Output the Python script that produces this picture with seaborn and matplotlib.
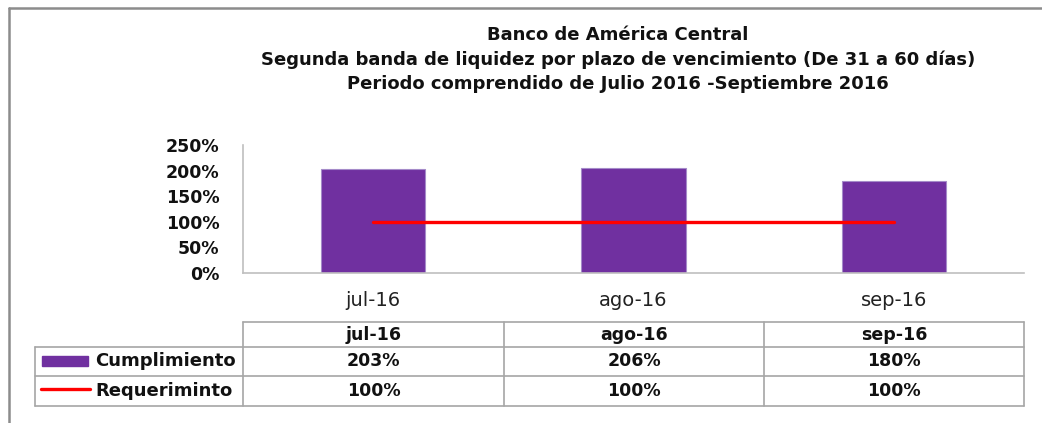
import numpy as np
import matplotlib
matplotlib.use("Agg")
import matplotlib.pyplot as plt
import seaborn as sns
from matplotlib.ticker import FuncFormatter
from matplotlib.patches import Rectangle
from matplotlib.lines import Line2D

# ---- data ----
months = ["jul-16", "ago-16", "sep-16"]
cumplimiento = [203, 206, 180]
requerimiento = [100, 100, 100]
series_names = ["Cumplimiento", "Requeriminto"]
title_lines = [
    "Banco de América Central",
    "Segunda banda de liquidez por plazo de vencimiento (De 31 a 60 días)",
    "Periodo comprendido de Julio 2016 -Septiembre 2016",
]
yticks = [0, 50, 100, 150, 200, 250]

PURPLE = "#7030A0"
RED = "#FF0000"
GRID = "#A6A6A6"

sns.set_theme(style="white")
plt.rcParams["font.family"] = ["DejaVu Sans"]

W, H = 1042, 423
fig = plt.figure(figsize=(W / 100, H / 100), dpi=100)

# main axes
L, R, T, B = 243, 1024, 145, 273
ax = fig.add_axes([L / W, 1 - B / H, (R - L) / W, (B - T) / H])
sns.barplot(x=months, y=cumplimiento, color=PURPLE, saturation=1, width=0.4,
            edgecolor="#A58BC9", linewidth=0.8, ax=ax)
sns.lineplot(x=np.arange(len(months)), y=requerimiento, color=RED, lw=2.4, ax=ax)
ax.set_xlim(-0.5, len(months) - 0.5)
ax.set_ylim(0, 250)
ax.set_yticks(yticks)
ax.yaxis.set_major_formatter(FuncFormatter(lambda v, p: f"{v:.0f}%"))
ax.set_xticks(range(len(months)))
ax.set_xticklabels(months)
ax.set_xlabel("")
ax.set_ylabel("")
ax.tick_params(axis="y", length=0, pad=17, labelsize=12.5)
ax.tick_params(axis="x", length=0, pad=13, labelsize=14, labelcolor="#222222")
for lab in ax.get_yticklabels():
    lab.set_fontweight("bold")
    lab.set_color("#111111")
for s in ["top", "right"]:
    ax.spines[s].set_visible(False)
for s in ["left", "bottom"]:
    ax.spines[s].set_color("#BFBFBF")
    ax.spines[s].set_linewidth(1.2)
ax.set_facecolor("none")

# overlay axes in pixel coordinates for frame, title and data table
ov = fig.add_axes([0, 0, 1, 1], zorder=-1)
ov.set_xlim(0, W)
ov.set_ylim(H, 0)
ov.axis("off")

# outer frame
ov.add_line(Line2D([9, 9], [8, H], color="#8C8C8C", lw=1.8))
ov.add_line(Line2D([9, W], [8, 8], color="#8C8C8C", lw=1.8))

# title
for y, t in zip([35, 60, 84], title_lines):
    ov.text(618, y, t, ha="center", va="center", fontsize=13,
            fontweight="bold", color="#111111")

# data table
cols = [243, 504, 764, 1024]
rows = [322, 347, 376, 406]
tl = 35
kw = dict(color=GRID, lw=1.2)
ov.add_line(Line2D([cols[0], cols[-1]], [rows[0], rows[0]], **kw))
for y in rows[1:]:
    ov.add_line(Line2D([tl, cols[-1]], [y, y], **kw))
for x in cols:
    ov.add_line(Line2D([x, x], [rows[0], rows[-1]], **kw))
ov.add_line(Line2D([tl, tl], [rows[1], rows[-1]], **kw))

cell_kw = dict(ha="center", va="center", fontsize=12.5, fontweight="bold",
               color="#111111")
for i, m in enumerate(months):
    cx = (cols[i] + cols[i + 1]) / 2
    ov.text(cx, (rows[0] + rows[1]) / 2, m, **cell_kw)
    ov.text(cx, (rows[1] + rows[2]) / 2, f"{cumplimiento[i]}%", **cell_kw)
    ov.text(cx, (rows[2] + rows[3]) / 2, f"{requerimiento[i]}%", **cell_kw)

# legend keys in the table
ov.add_patch(Rectangle((42, 356), 46, 10, color=PURPLE))
ov.add_line(Line2D([41, 90], [389, 389], color=RED, lw=2.4))
ov.text(95, (rows[1] + rows[2]) / 2, series_names[0], ha="left", va="center",
        fontsize=13, fontweight="bold", color="#111111")
ov.text(95, (rows[2] + rows[3]) / 2, series_names[1], ha="left", va="center",
        fontsize=13, fontweight="bold", color="#111111")

fig.savefig("out.png", dpi=100, facecolor="white")
